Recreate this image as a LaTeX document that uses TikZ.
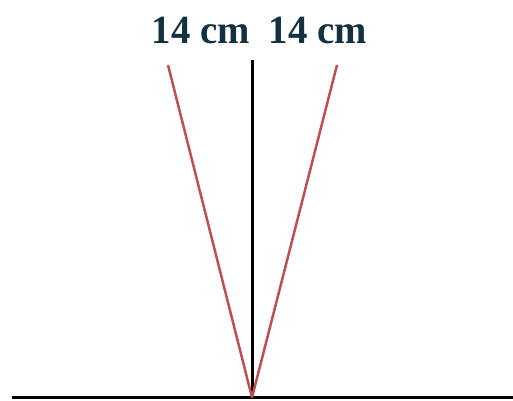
\documentclass[tikz,border=0pt]{standalone}
\usepackage{fontspec}
\setmainfont{Liberation Serif}
\usepackage{xcolor}
\definecolor{labelteal}{HTML}{12323F}
\definecolor{sidered}{HTML}{C0504D}

\begin{document}
\begin{tikzpicture}[x=1pt, y=1pt]
    \useasboundingbox (0, 0) rectangle (513, 400);

    % Points
    \coordinate (apex) at (252, 2.5);
    \coordinate (top) at (252, 340);
    \coordinate (leftTop) at (168, 335);
    \coordinate (rightTop) at (337, 335);
    \coordinate (groundL) at (12, 2.5);
    \coordinate (groundR) at (513, 2.5);

    % Ground
    \draw[line width=2.5pt] (groundL) -- (groundR);

    % Height
    \draw[line width=3pt] (apex) -- (top);

    % Sides
    \draw[sidered, line width=2.5pt] (apex) -- (leftTop);
    \draw[sidered, line width=2.5pt] (apex) -- (rightTop);

    % Labels
    \node[labelteal, xscale=0.97, font=\fontsize{40}{44}\selectfont\bfseries] (lblL) at (201, 369.5) {14 cm};
    \node[labelteal, xscale=0.97, font=\fontsize{40}{44}\selectfont\bfseries] (lblR) at (318, 369.5) {14 cm};
\end{tikzpicture}
\end{document}
